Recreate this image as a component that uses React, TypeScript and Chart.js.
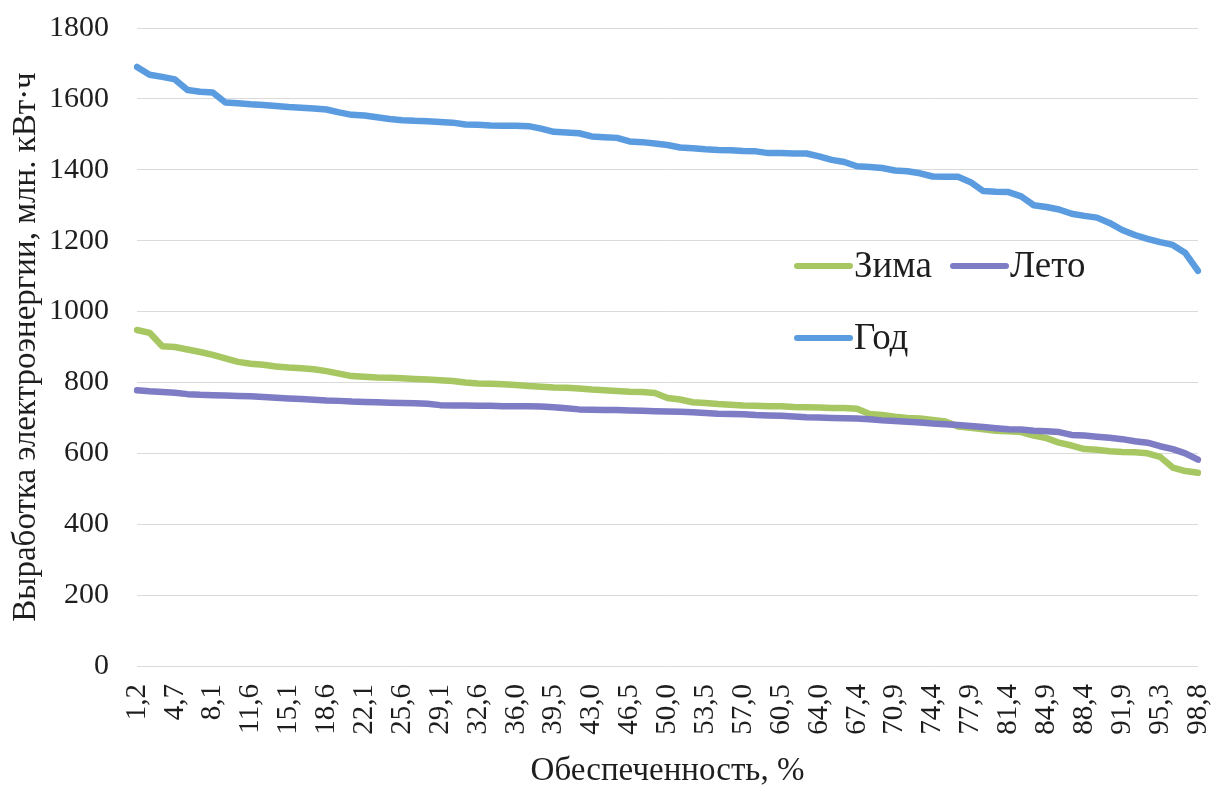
import React, { useEffect, useRef } from "react";
import { Chart, registerables } from "chart.js";

Chart.register(...registerables);

const categories: string[] = [
  "1,2", "2,3", "3,5", "4,7", "5,8", "7,0", "8,1", "9,3", "10,5", "11,6",
  "12,8", "14,0", "15,1", "16,3", "17,4", "18,6", "19,8", "20,9", "22,1", "23,3",
  "24,4", "25,6", "26,7", "27,9", "29,1", "30,2", "31,4", "32,6", "33,7", "34,9",
  "36,0", "37,2", "38,4", "39,5", "40,7", "41,9", "43,0", "44,2", "45,3", "46,5",
  "47,7", "48,8", "50,0", "51,2", "52,3", "53,5", "54,7", "55,8", "57,0", "58,1",
  "59,3", "60,5", "61,6", "62,8", "64,0", "65,1", "66,3", "67,4", "68,6", "69,8",
  "70,9", "72,1", "73,3", "74,4", "75,6", "76,7", "77,9", "79,1", "80,2", "81,4",
  "82,6", "83,7", "84,9", "86,0", "87,2", "88,4", "89,5", "90,7", "91,9", "93,0",
  "94,2", "95,3", "96,5", "97,7", "98,8",
];

const yearValues: number[] = [
  1690, 1668, 1662, 1655, 1625, 1620, 1618, 1590, 1588, 1585,
  1583, 1580, 1577, 1575, 1573, 1570, 1562, 1555, 1553, 1548,
  1543, 1540, 1538, 1537, 1535, 1533, 1528, 1527, 1525, 1524,
  1524, 1523, 1516, 1507, 1505, 1503, 1494, 1492, 1490, 1480,
  1478, 1474, 1470, 1463, 1461, 1458, 1456, 1455, 1453, 1452,
  1447, 1447, 1446, 1446, 1438, 1428, 1422, 1410, 1408, 1405,
  1398, 1396, 1390, 1381, 1380, 1380, 1365, 1340, 1338, 1337,
  1325, 1300, 1295, 1288, 1276, 1270, 1265, 1250, 1230, 1216,
  1205, 1196, 1188, 1165, 1115,
];

const winterValues: number[] = [
  948, 940, 902, 900, 893, 886, 878, 868, 858, 853,
  850, 845, 842, 840, 837, 832, 825, 818, 816, 814,
  813, 812, 810, 808, 806, 804, 800, 797, 796, 795,
  793, 790, 788, 786, 785, 783, 780, 778, 776, 774,
  773, 770, 756, 752, 744, 742, 739, 737, 735, 734,
  733, 733, 731, 730, 729, 728, 728, 726, 711, 708,
  703, 700, 698, 694, 690, 676, 672, 668, 664, 662,
  660, 650, 643, 630, 622, 612, 610, 606, 604, 603,
  600, 590, 560, 550, 545,
];

const summerValues: number[] = [
  778, 775, 773, 771, 767, 765, 764, 763, 762, 761,
  759, 757, 755, 753, 751, 749, 748, 746, 745, 744,
  743, 742, 741, 740, 736, 735, 735, 734, 734, 733,
  733, 733, 732, 730, 727, 724, 723, 722, 722, 721,
  720, 719, 718, 717, 716, 714, 712, 711, 710, 708,
  707, 706, 704, 702, 701, 700, 699, 698, 696, 693,
  691, 689, 687, 684, 682, 680, 677, 674, 671, 668,
  667, 664, 662, 660, 652, 650, 647, 644, 640, 634,
  630, 620, 612, 600, 582,
];

const seriesNames: string[] = ["Зима", "Лето", "Год"];
const seriesColors: string[] = ["#a7c762", "#7d7cc5", "#5b9ce0"];

const xTitle = "Обеспеченность, %";
const yTitle = "Выработка электроэнергии, млн. кВт·ч";

const FONT = "'Liberation Serif', 'Times New Roman', serif";
const TEXT = "#1e1e1e";

const legendPlugin = {
  id: "inlineLegend",
  afterDatasetsDraw(chart: any) {
    const ctx = chart.ctx;
    const items = [
      { i: 0, x: 797, y: 266 },
      { i: 1, x: 953, y: 266 },
      { i: 2, x: 797, y: 338 },
    ];
    ctx.save();
    ctx.font = `37px ${FONT}`;
    ctx.textBaseline = "middle";
    ctx.textAlign = "left";
    for (const it of items) {
      ctx.strokeStyle = seriesColors[it.i];
      ctx.lineWidth = 6;
      ctx.lineCap = "round";
      ctx.beginPath();
      ctx.moveTo(it.x, it.y);
      ctx.lineTo(it.x + 53, it.y);
      ctx.stroke();
      ctx.fillStyle = TEXT;
      ctx.fillText(seriesNames[it.i], it.x + 57, it.y + 1);
    }
    ctx.restore();
  },
};

export default function App() {
  const ref = useRef<HTMLCanvasElement | null>(null);

  useEffect(() => {
    if (!ref.current) return;
    const values = [winterValues, summerValues, yearValues];
    const orders = [1, 0, 2];
    const chart = new Chart(ref.current, {
      type: "line",
      data: {
        labels: categories,
        datasets: values.map((v, i) => ({
          label: seriesNames[i],
          data: v,
          borderColor: seriesColors[i],
          backgroundColor: seriesColors[i],
          borderWidth: 6.5,
          pointRadius: 0,
          tension: 0,
          fill: false,
          order: orders[i],
          borderCapStyle: "round" as const,
          borderJoinStyle: "round" as const,
        })),
      },
      options: {
        animation: false,
        responsive: false,
        devicePixelRatio: 1,
        layout: { padding: { left: 0, right: 14, top: 28, bottom: 0 } },
        plugins: {
          legend: { display: false },
          tooltip: { enabled: false },
        },
        scales: {
          x: {
            offset: false,
            grid: { display: false, drawTicks: false },
            border: { display: false },
            afterFit: (s: any) => {
              s.height = 127;
              s.paddingLeft = 0;
              s.paddingRight = 0;
            },
            ticks: {
              autoSkip: false,
              minRotation: 90,
              maxRotation: 90,
              padding: 18,
              color: TEXT,
              font: { family: FONT, size: 29 },
              callback: (_v: any, i: number) => (i % 3 === 0 ? categories[i] : ""),
            },
            title: {
              display: true,
              text: xTitle,
              color: TEXT,
              font: { family: FONT, size: 33 },
              padding: { top: 4, bottom: 2 },
            },
          },
          y: {
            min: 0,
            max: 1800,
            grid: { color: "#dadada", lineWidth: 1, drawTicks: false },
            border: { display: false },
            afterFit: (s: any) => {
              s.width = 137;
              s.paddingTop = 0;
              s.paddingBottom = 0;
            },
            ticks: {
              stepSize: 200,
              padding: 28,
              color: TEXT,
              font: { family: FONT, size: 30 },
              callback: (v: any) => String(v),
            },
            title: {
              display: true,
              text: yTitle,
              color: TEXT,
              font: { family: FONT, size: 33 },
              padding: { top: 7, bottom: 4 },
            },
          },
        },
      },
      plugins: [legendPlugin],
    });
    return () => chart.destroy();
  }, []);

  return (
    <div
      style={{
        position: "absolute",
        left: 0,
        top: 0,
        width: 1212,
        height: 793,
        background: "#ffffff",
      }}
    >
      <canvas ref={ref} width={1212} height={793} style={{ display: "block" }} />
    </div>
  );
}
